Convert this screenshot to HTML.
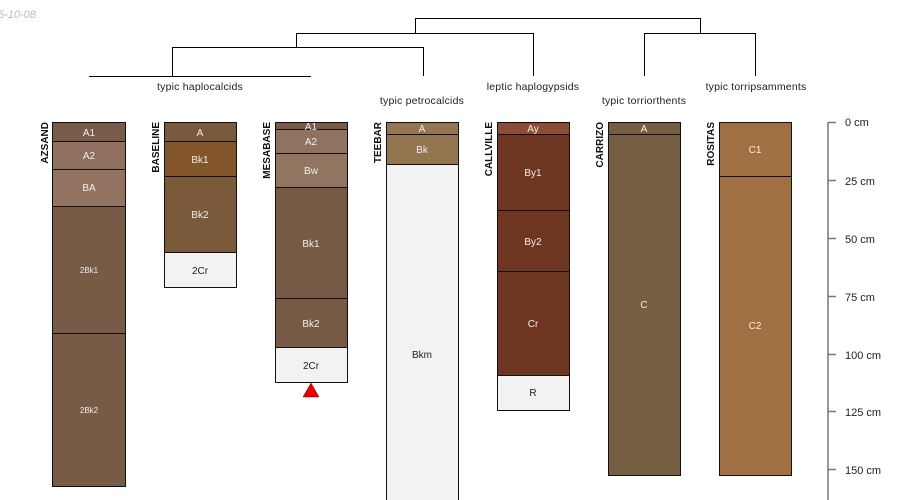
<!DOCTYPE html>
<html><head><style>body{margin:0;background:#fff}svg{display:block}</style></head><body>
<svg width="900" height="500" xmlns="http://www.w3.org/2000/svg" font-family="Liberation Sans, sans-serif">
<text x="-2" y="18" font-size="11" font-style="italic" fill="#bbb">5-10-08</text>
<g stroke="#000" stroke-width="1" fill="none">
<path d="M415.5 33V18.5H700.5V33"/>
<path d="M296.5 47V33.5H533.5V76"/>
<path d="M644.5 76V33.5H755.5V76"/>
<path d="M172.5 76V47.5H423.5V76"/>
<path d="M89 76.5H311"/>
</g>
<g font-size="10.5" fill="#222" text-anchor="middle" letter-spacing="0.2">
<text x="200" y="90">typic haplocalcids</text>
<text x="422" y="104">typic petrocalcids</text>
<text x="533" y="90">leptic haplogypsids</text>
<text x="644" y="104">typic torriorthents</text>
<text x="756" y="90">typic torripsamments</text>
</g>
<g stroke="#111" stroke-width="1">
<rect x="52.5" y="122.5" width="73" height="19" fill="#7a5a48"/>
<rect x="52.5" y="141.5" width="73" height="28" fill="#8f6f5e"/>
<rect x="52.5" y="169.5" width="73" height="37" fill="#927261"/>
<rect x="52.5" y="206.5" width="73" height="127" fill="#775b47"/>
<rect x="52.5" y="333.5" width="73" height="153" fill="#775b47"/>
<rect x="164.5" y="122.5" width="72" height="19" fill="#7a5a3e"/>
<rect x="164.5" y="141.5" width="72" height="35" fill="#83552b"/>
<rect x="164.5" y="176.5" width="72" height="76" fill="#7b5a3c"/>
<rect x="164.5" y="252.5" width="72" height="35" fill="#f2f2f2"/>
<rect x="275.5" y="122.5" width="72" height="7" fill="#7a5a48"/>
<rect x="275.5" y="129.5" width="72" height="24" fill="#8f7260"/>
<rect x="275.5" y="153.5" width="72" height="34" fill="#927561"/>
<rect x="275.5" y="187.5" width="72" height="111" fill="#775a45"/>
<rect x="275.5" y="298.5" width="72" height="49" fill="#775a45"/>
<rect x="275.5" y="347.5" width="72" height="35" fill="#f2f2f2"/>
<rect x="386.5" y="122.5" width="72" height="12" fill="#957650"/>
<rect x="386.5" y="134.5" width="72" height="30" fill="#937550"/>
<rect x="386.5" y="164.5" width="72" height="340" fill="#f2f2f2"/>
<rect x="497.5" y="122.5" width="72" height="12" fill="#8b4d36"/>
<rect x="497.5" y="134.5" width="72" height="76" fill="#6e3520"/>
<rect x="497.5" y="210.5" width="72" height="61" fill="#6e3520"/>
<rect x="497.5" y="271.5" width="72" height="104" fill="#6e3520"/>
<rect x="497.5" y="375.5" width="72" height="35" fill="#f2f2f2"/>
<rect x="608.5" y="122.5" width="72" height="12" fill="#765e42"/>
<rect x="608.5" y="134.5" width="72" height="341" fill="#765e42"/>
<rect x="719.5" y="122.5" width="72" height="54" fill="#a17042"/>
<rect x="719.5" y="176.5" width="72" height="299" fill="#a17042"/>
</g>
<polygon points="311,383 303,397 319,397" fill="#e00" stroke="#600" stroke-width="0.5"/>
<g font-size="10" text-anchor="middle" fill="#eee">
<text x="89" y="136">A1</text><text x="89" y="159">A2</text><text x="89" y="191">BA</text>
<text x="89" y="273" font-size="8">2Bk1</text><text x="89" y="413" font-size="8">2Bk2</text>
<text x="200" y="136">A</text><text x="200" y="163">Bk1</text><text x="200" y="218">Bk2</text>
<text x="200" y="274" fill="#222">2Cr</text>
<text x="311" y="130">A1</text><text x="311" y="145">A2</text><text x="311" y="174">Bw</text>
<text x="311" y="247">Bk1</text><text x="311" y="327">Bk2</text><text x="311" y="369" fill="#222">2Cr</text>
<text x="422" y="132">A</text><text x="422" y="153">Bk</text><text x="422" y="358" fill="#222">Bkm</text>
<text x="533" y="132">Ay</text><text x="533" y="176">By1</text><text x="533" y="245">By2</text>
<text x="533" y="327">Cr</text><text x="533" y="396" fill="#222">R</text>
<text x="644" y="132">A</text><text x="644" y="308">C</text>
<text x="755" y="153">C1</text><text x="755" y="329">C2</text>
</g>
<g font-size="10" font-weight="bold" fill="#111" text-anchor="end">
<text transform="translate(48,122) rotate(-90)">AZSAND</text>
<text transform="translate(159,122) rotate(-90)">BASELINE</text>
<text transform="translate(270,122) rotate(-90)">MESABASE</text>
<text transform="translate(381,122) rotate(-90)">TEEBAR</text>
<text transform="translate(492,122) rotate(-90)">CALLVILLE</text>
<text transform="translate(603,122) rotate(-90)">CARRIZO</text>
<text transform="translate(714,122) rotate(-90)">ROSITAS</text>
</g>
<g stroke="#777" stroke-width="1.5">
<line x1="828" y1="122" x2="828" y2="500"/>
<line x1="828" y1="122.5" x2="836" y2="122.5"/>
<line x1="828" y1="180.5" x2="836" y2="180.5"/>
<line x1="828" y1="238.5" x2="836" y2="238.5"/>
<line x1="828" y1="296.5" x2="836" y2="296.5"/>
<line x1="828" y1="354.5" x2="836" y2="354.5"/>
<line x1="828" y1="411.5" x2="836" y2="411.5"/>
<line x1="828" y1="469.5" x2="836" y2="469.5"/>
</g>
<g font-size="11" fill="#222">
<text x="845" y="126">0 cm</text>
<text x="845" y="185">25 cm</text>
<text x="845" y="243">50 cm</text>
<text x="845" y="301">75 cm</text>
<text x="845" y="359">100 cm</text>
<text x="845" y="416">125 cm</text>
<text x="845" y="474">150 cm</text>
</g>
</svg>
</body></html>
